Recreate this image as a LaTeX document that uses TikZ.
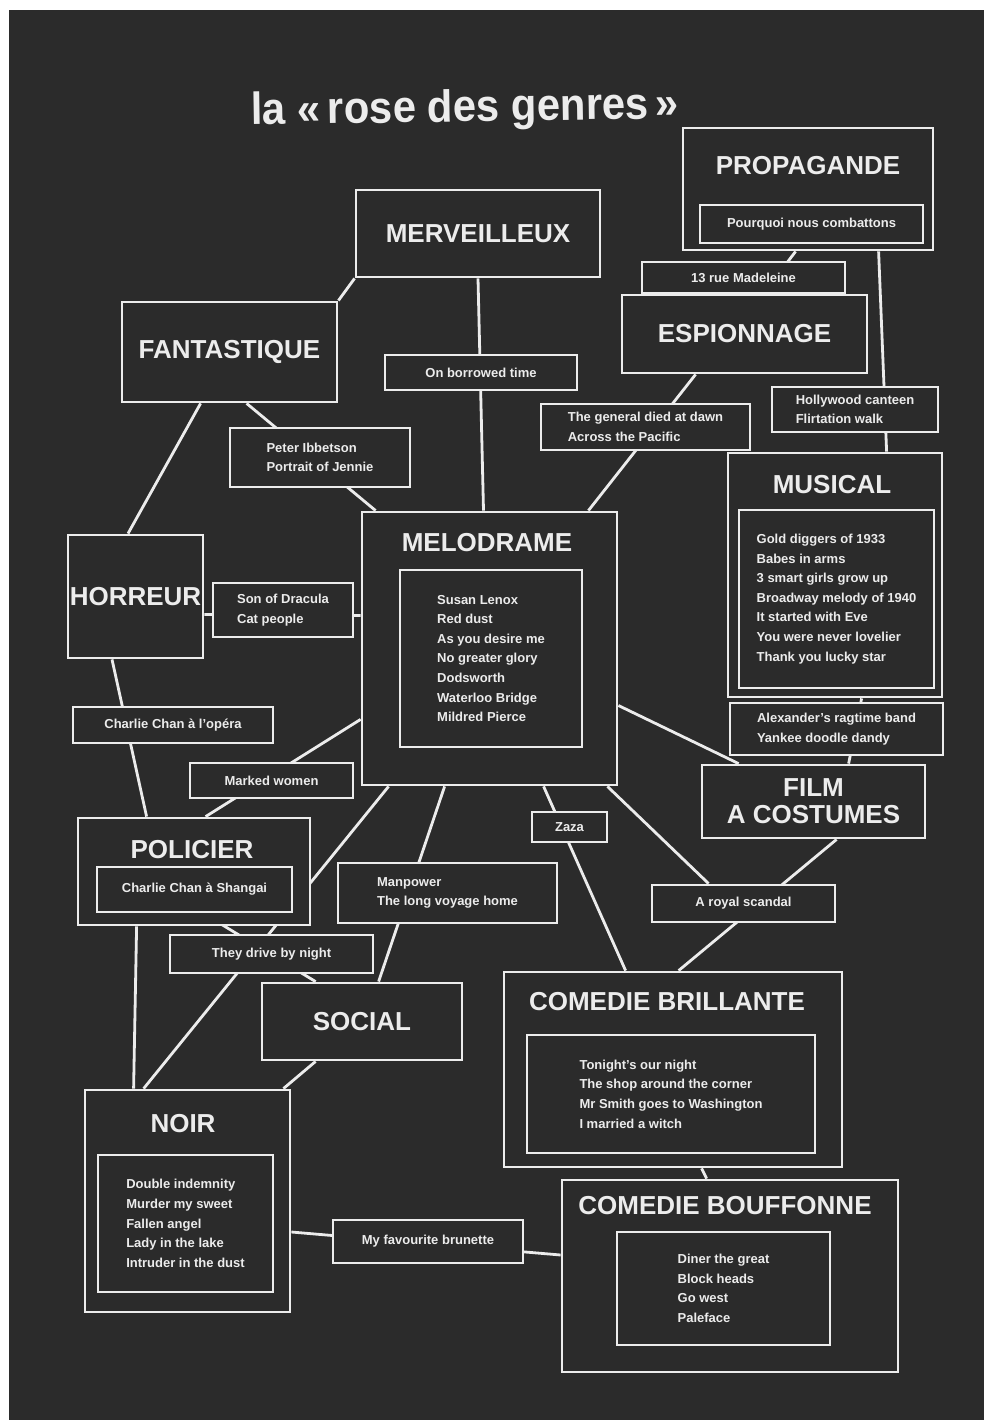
\documentclass[tikz,border=0pt]{standalone}
\usepackage{fontspec}
\setmainfont{Liberation Sans}
\usetikzlibrary{calc}
\pgfdeclarelayer{back}
\pgfdeclarelayer{edges}
\pgfsetlayers{back,edges,main}
\definecolor{board}{HTML}{2B2B2B}
\definecolor{chalk}{HTML}{ECECEC}
\tikzset{
  gbox/.style={draw=chalk, line width=2.8pt, fill=board, inner sep=1pt, text=chalk,
    font=\bfseries\fontsize{26}{27}\selectfont, align=center},
  lbox/.style={gbox, font=\bfseries\fontsize{13}{19.6}\selectfont, align=left},
  ttl/.style={text=chalk, font=\bfseries\fontsize{26}{27}\selectfont, inner sep=0pt},
  edge/.style={draw=chalk, line width=2.8pt},
}
% style, name, x1, y1, x2, y2, text
\newcommand\gbx[7]{\node[#1, minimum width={(#5)-(#3)}, minimum height={(#6)-(#4)}] (#2) at ({((#3)+(#5))/2},{((#4)+(#6))/2}) {#7};}
\begin{document}
\begin{tikzpicture}[x=1pt,y=-1pt]
\useasboundingbox (0,0) rectangle (984,1420);
\begin{pgfonlayer}{back}
\fill[white] (0,0) rectangle (984,1420);
\fill[board] (9,10) rectangle (984,1420);
\end{pgfonlayer}

\node[text=chalk, font=\bfseries\fontsize{45}{45}\selectfont, inner sep=0pt, rotate=0.9] (title) at (465,110) {\scalebox{0.93}[1]{la «\,rose des genres\,»}};

% genre boxes
\gbx{gbox}{merv}{356}{190}{600}{277}{MERVEILLEUX}
\gbx{gbox}{fant}{122}{302}{337}{402}{FANTASTIQUE}
\gbx{gbox}{prop}{683}{128}{933}{250}{}
\node[ttl] (prop-t) at (808,166) {PROPAGANDE};
\gbx{lbox}{propin}{700}{205}{923}{243}{Pourquoi nous combattons}
\gbx{gbox}{esp}{622}{295}{867}{373}{ESPIONNAGE}
\gbx{gbox}{musical}{728}{453}{942}{697}{}
\node[ttl] (musical-t) at (832,485) {MUSICAL};
\gbx{lbox}{musin}{739}{510}{934}{688}{Gold diggers of 1933\\Babes in arms\\3 smart girls grow up\\Broadway melody of 1940\\It started with Eve\\You were never lovelier\\Thank you lucky star}
\gbx{gbox}{horr}{68}{535}{203}{658}{HORREUR}
\gbx{gbox}{melo}{362}{512}{617}{785}{}
\node[ttl] (melo-t) at (487,543) {MELODRAME};
\gbx{lbox}{meloin}{400}{570}{582}{747}{Susan Lenox\\Red dust\\As you desire me\\No greater glory\\Dodsworth\\Waterloo Bridge\\Mildred Pierce}
\gbx{gbox}{film}{702}{765}{925}{838}{FILM\\A COSTUMES}
\gbx{gbox}{pol}{78}{818}{310}{925}{}
\node[ttl] (pol-t) at (192,850) {POLICIER};
\gbx{lbox}{polin}{97}{867}{292}{912}{Charlie Chan à Shangai}
\gbx{gbox}{social}{262}{983}{462}{1060}{SOCIAL}
\gbx{gbox}{noir}{85}{1090}{290}{1312}{}
\node[ttl] (noir-t) at (183,1124) {NOIR};
\gbx{lbox}{noirin}{98}{1155}{273}{1292}{Double indemnity\\Murder my sweet\\Fallen angel\\Lady in the lake\\Intruder in the dust}
\gbx{gbox}{brill}{504}{972}{842}{1167}{}
\node[ttl] (brill-t) at (667,1002) {COMEDIE BRILLANTE};
\gbx{lbox}{brillin}{527}{1035}{815}{1153}{Tonight's our night\\The shop around the corner\\Mr Smith goes to Washington\\I married a witch}
\gbx{gbox}{bouf}{562}{1180}{898}{1372}{}
\node[ttl] (bouf-t) at (725,1206) {COMEDIE BOUFFONNE};
\gbx{lbox}{boufin}{617}{1232}{830}{1345}{Diner the great\\Block heads\\Go west\\Paleface}

% film label boxes
\gbx{lbox}{rue}{642}{262}{845}{293}{13 rue Madeleine}
\gbx{lbox}{general}{541}{404}{750}{450}{The general died at dawn\\Across the Pacific}
\gbx{lbox}{holly}{772}{387}{938}{432}{Hollywood canteen\\Flirtation walk}
\gbx{lbox}{borrowed}{385}{355}{577}{390}{On borrowed time}
\gbx{lbox}{peter}{230}{428}{410}{487}{Peter Ibbetson\\Portrait of Jennie}
\gbx{lbox}{dracula}{213}{583}{353}{637}{Son of Dracula\\Cat people}
\gbx{lbox}{opera}{73}{707}{273}{743}{Charlie Chan à l'opéra}
\gbx{lbox}{marked}{190}{763}{353}{798}{Marked women}
\gbx{lbox}{alex}{730}{703}{943}{755}{Alexander's ragtime band\\Yankee doodle dandy}
\gbx{lbox}{zaza}{532}{812}{607}{842}{Zaza}
\gbx{lbox}{manp}{338}{863}{557}{923}{Manpower\\The long voyage home}
\gbx{lbox}{royal}{652}{885}{835}{922}{A royal scandal}
\gbx{lbox}{drive}{170}{935}{373}{973}{They drive by night}
\gbx{lbox}{brunette}{333}{1220}{523}{1263}{My favourite brunette}

% connectors (drawn beneath the boxes)
\begin{pgfonlayer}{edges}
\draw[edge] (merv.south west) -- (fant.north east);
\draw[edge] (merv.south) -- ($(melo.north)+(-6,0)$);
\draw[edge] ($(fant.south west)+(80,0)$) -- ($(horr.north)+(-7.5,0)$);
\draw[edge] ($(fant.south west)+(126,0)$) -- ($(melo.north west)+(15,0)$);
\draw[edge] ($(horr.east)+(0,18)$) -- ($(melo.west)+(0,-33)$);
\draw[edge] ($(horr.south)+(-23.5,0)$) -- ($(pol.north west)+(70,0)$);
\draw[edge] ($(melo.south west)+(0,-67)$) -- ($(pol.north west)+(129,0)$);
\draw[edge] ($(melo.south west)+(28,0)$) -- ($(noir.north west)+(60,0)$);
\draw[edge] ($(pol.south west)+(60,0)$) -- ($(noir.north west)+(50,0)$);
\draw[edge] ($(pol.south west)+(140,-5)$) -- ($(social.north west)+(55,0)$);
\draw[edge] ($(melo.south west)+(84,0)$) -- ($(social.north west)+(118,0)$);
\draw[edge] ($(social.south west)+(55,0)$) -- ($(noir.north east)+(-8,0)$);
\draw[edge] ($(noir.east)+(0,31)$) -- ($(bouf.west)+(0,-21)$);
\draw[edge] ($(melo.south west)+(183,0)$) -- ($(brill.north west)+(123,0)$);
\draw[edge] ($(melo.south east)+(-11,0)$) -- ($(royal.north west)+(58,0)$);
\draw[edge] ($(film.south west)+(136,0)$) -- ($(brill.north west)+(176,0)$);
\draw[edge] ($(melo.east)+(0,57)$) -- ($(film.north west)+(38,0)$);
\draw[edge] ($(musical.south west)+(135,0)$) -- ($(film.north west)+(148,0)$);
\draw[edge] ($(prop.south west)+(197,0)$) -- ($(musical.north west)+(160,0)$);
\draw[edge] ($(prop.south west)+(114,0)$) -- ($(esp.north west)+(143,0)$);
\draw[edge] ($(esp.south west)+(75,0)$) -- ($(melo.north east)+(-30,0)$);
\draw[edge] ($(brill.south west)+(199,0)$) -- ($(bouf.north west)+(146,0)$);
\end{pgfonlayer}
\end{tikzpicture}
\end{document}
